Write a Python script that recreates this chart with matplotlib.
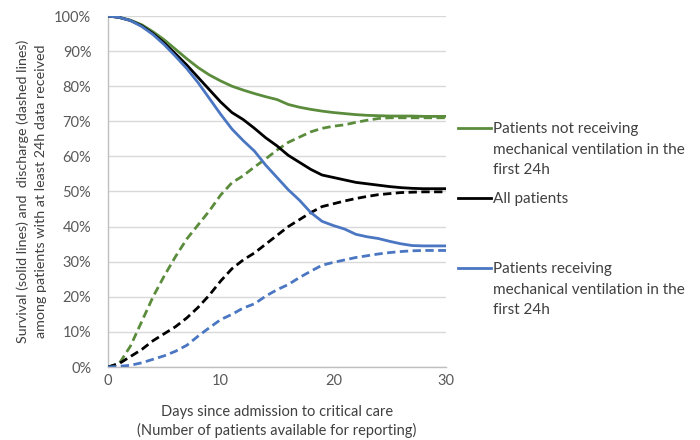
import matplotlib as mpl
import matplotlib.pyplot as plt
from matplotlib.lines import Line2D
from matplotlib.ticker import PercentFormatter

mpl.rcParams.update({
    "font.family": ["Lato", "DejaVu Sans"],
    "font.size": 10.5,
})

C_GREEN = "#5b8c3c"
C_BLACK = "#000000"
C_BLUE = "#4a76c2"
C_TEXT = "#595959"

days = list(range(31))

# Survival (solid lines), %
surv_not_mv = [100, 99.6, 98.8, 97.5, 95.5, 93.2, 90.5, 87.8, 85.3, 83.2, 81.5,
               80.0, 78.9, 77.9, 77.0, 76.2, 74.8, 74.0, 73.4, 72.9, 72.5,
               72.2, 71.9, 71.7, 71.6, 71.5, 71.5, 71.5, 71.4, 71.4, 71.4]
surv_all = [100, 99.6, 98.7, 97.2, 95.0, 92.3, 89.2, 86.0, 82.5, 79.0, 75.5,
            72.5, 70.5, 68.0, 65.3, 63.0, 60.3, 58.3, 56.3, 54.7, 54.0,
            53.3, 52.6, 52.2, 51.8, 51.4, 51.1, 50.9, 50.8, 50.8, 50.8]
surv_mv = [100, 99.6, 98.7, 97.0, 94.7, 91.8, 88.5, 85.0, 81.0, 76.5, 72.0,
           67.8, 64.5, 61.5, 57.5, 54.0, 50.5, 47.5, 44.0, 41.5, 40.3,
           39.3, 37.8, 37.1, 36.6, 35.8, 35.1, 34.6, 34.5, 34.5, 34.5]

# Discharge (dashed lines), %
disc_not_mv = [0, 1.0, 6.0, 13.0, 20.0, 26.0, 31.5, 36.5, 40.5, 44.5, 49.0,
               52.5, 54.5, 57.0, 59.3, 61.8, 64.0, 65.5, 67.0, 68.0, 68.6,
               69.0, 69.7, 70.3, 70.8, 71.0, 71.0, 71.0, 71.0, 71.0, 71.0]
disc_all = [0, 1.0, 3.0, 5.0, 7.5, 9.5, 11.5, 14.0, 17.0, 20.5, 24.5,
            28.0, 30.5, 32.5, 35.0, 37.5, 40.0, 42.0, 44.0, 45.7, 46.5,
            47.3, 48.0, 48.6, 49.1, 49.4, 49.7, 49.8, 49.9, 49.9, 49.9]
disc_mv = [0, 0.2, 0.5, 1.2, 2.2, 3.2, 4.5, 6.2, 8.8, 11.2, 13.5,
           15.0, 16.8, 18.0, 20.2, 22.0, 23.5, 25.5, 27.3, 29.0, 29.8,
           30.5, 31.2, 31.7, 32.2, 32.6, 32.9, 33.1, 33.2, 33.2, 33.2]

legend_labels = ["Patients not receiving\nmechanical ventilation in the\nfirst 24h",
                 "All patients",
                 "Patients receiving\nmechanical ventilation in the\nfirst 24h"]

fig = plt.figure(figsize=(7.0, 4.4), dpi=100)
ax = fig.add_axes([108 / 700, 73 / 440, 338 / 700, 351 / 440])

for surv, disc, col in [(surv_not_mv, disc_not_mv, C_GREEN),
                        (surv_all, disc_all, C_BLACK),
                        (surv_mv, disc_mv, C_BLUE)]:
    ax.plot(days, surv, color=col, lw=2.0, zorder=3)
    ax.plot(days, disc, color=col, lw=2.0, ls=(0, (3, 1.6)), zorder=3)

ax.set_xlim(0, 30)
ax.set_ylim(0, 100)
ax.set_xticks([0, 10, 20, 30])
ax.set_yticks(range(0, 101, 10))
ax.yaxis.set_major_formatter(PercentFormatter(decimals=0))
ax.tick_params(length=0, colors=C_TEXT, labelsize=10.5)
ax.tick_params(axis="y", pad=12)
ax.tick_params(axis="x", pad=5)
ax.grid(axis="y", color="#d9d9d9", lw=1.0)
ax.set_axisbelow(True)
for s in ["top", "right"]:
    ax.spines[s].set_visible(False)
for s in ["left", "bottom"]:
    ax.spines[s].set_color("#bfbfbf")
    ax.spines[s].set_linewidth(1.0)

ax.set_xlabel("Days since admission to critical care\n(Number of patients available for reporting)",
              color="#404040", fontsize=10.5, linespacing=1.4, labelpad=12)
ax.set_ylabel("Survival (solid lines) and  discharge (dashed lines)\namong patients with at least 24h data received",
              color="#404040", fontsize=10.3, linespacing=1.6, labelpad=5)

# Legend drawn beside the plot, Excel style
for label, col, ypix in zip(legend_labels, [C_GREEN, C_BLACK, C_BLUE], [128, 198, 268]):
    yf = 1 - ypix / 440
    fig.add_artist(Line2D([458 / 700, 491 / 700], [yf, yf], color=col, lw=2.0))
    fig.text(493 / 700, yf + 6 / 440, label, color="#404040", fontsize=11,
             ha="left", va="top", linespacing=1.6)

fig.savefig("out.png", dpi=100)
